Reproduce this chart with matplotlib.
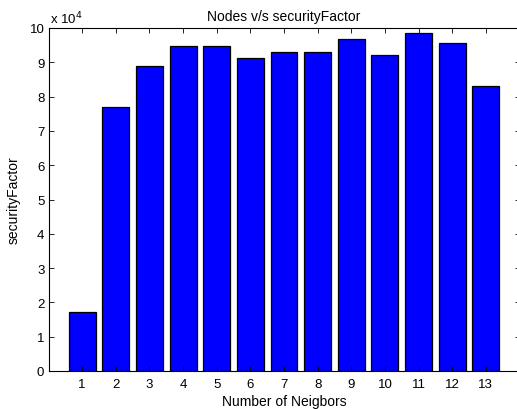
import numpy as np
import matplotlib.pyplot as plt
from matplotlib.ticker import FuncFormatter

plt.rcParams['font.family'] = ['Liberation Sans', 'DejaVu Sans']

# number of neighbours and the security factor measured for each
neighbors = [1, 2, 3, 4, 5, 6, 7, 8, 9, 10, 11, 12, 13]
security_factor = [17100, 76900, 89000, 94700, 94700, 91300, 93100,
                   93100, 96800, 92100, 98500, 95700, 83200]

fig = plt.figure(figsize=(5.17, 4.10), dpi=100)
ax = fig.add_axes([48.5 / 517, 38 / 410, 471 / 517, 343 / 410])

ax.bar(neighbors, security_factor, width=0.8, color='#0000ff',
       edgecolor='black', linewidth=0.9)

ax.set_xlim(0, 14)
ax.set_ylim(0, 100000)
ax.set_xticks(neighbors)
ax.set_yticks(np.arange(0, 100001, 10000))
ax.yaxis.set_major_formatter(FuncFormatter(lambda v, p: f'{v / 1e4:g}'))

ax.tick_params(direction='in', top=True, right=True, length=3.5, width=0.6,
               labelsize=9.5, pad=5)
ax.tick_params(axis='y', pad=3)
for side in ['top', 'bottom', 'left', 'right']:
    ax.spines[side].set_linewidth(0.8)

ax.text(0.003, 1.006, r'x 10$^{4}$', transform=ax.transAxes, fontsize=9.5,
        ha='left', va='bottom')
ax.set_title('Nodes v/s securityFactor', fontsize=10, pad=6)
ax.set_xlabel('Number of Neigbors', fontsize=10, labelpad=3)
ax.set_ylabel('securityFactor', fontsize=10, labelpad=6)

fig.savefig('out.png', dpi=100, facecolor='white')
